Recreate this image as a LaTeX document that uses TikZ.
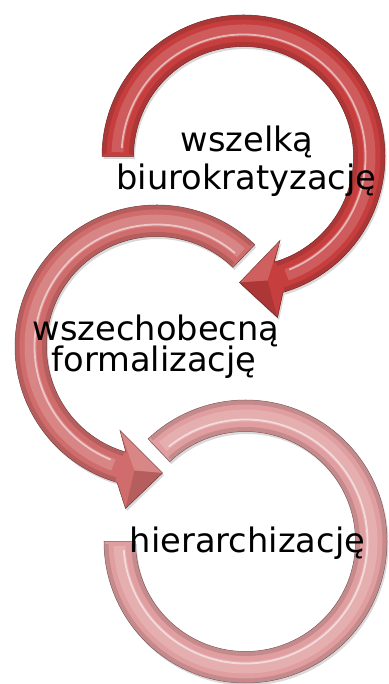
\documentclass[tikz,border=0pt]{standalone}
\usepackage{fontspec}
\setmainfont{DejaVu Sans}
\definecolor{ringA}{RGB}{198,62,62}
\definecolor{ringB}{RGB}{208,108,108}
\definecolor{ringC}{RGB}{224,158,160}
\tikzstyle{ring} = [line width=0.5pt,
    preaction={fill=black, fill opacity=0.15, transform canvas={shift={(1.5,-2.5)}}}]
\tikzstyle{edge} = [line width=4pt, black, opacity=0.12]
\tikzstyle{gloss} = [line width=12pt, opacity=0.35]
\tikzstyle{shine} = [line width=1.8pt, white, opacity=0.55]
\tikzstyle{facetlight} = [fill=white, fill opacity=0.18]
\tikzstyle{facetdark} = [fill=black, fill opacity=0.12]
\tikzstyle{ringtext} = [font=\fontsize{33.7}{38}\selectfont, text=black,
    inner sep=0pt, anchor=base]

\begin{document}
\begin{tikzpicture}[x=1pt,y=1pt]
	\useasboundingbox (0,0) rectangle (388,684);

	% first arrow, clockwise
	\begin{scope}[shift={(243.5,527.5)}]
	\filldraw[ring, fill=ringA, draw=ringA!55!black] (180:141.5)
		arc[start angle=180, end angle=-73.8, radius=141.5]
		-- (34,-161) -- (-4,-126) -- (36.5,-84) -- (-73.8:110)
		arc[start angle=-73.8, end angle=180, radius=110] -- cycle;
	\draw[edge] (179:139) arc[start angle=179, end angle=-73, radius=139];
	\draw[edge] (179:112.5) arc[start angle=179, end angle=-73, radius=112.5];
	\draw[gloss, ringA!55!white] (178:126) arc[start angle=178, end angle=-70, radius=126];
	\draw[shine] (176:122) arc[start angle=176, end angle=-68, radius=122];
	\fill[facetlight] (-4,-126) -- (36.5,-84) -- (24,-124) -- cycle;
	\fill[facetdark] (-4,-126) -- (34,-161) -- (24,-124) -- cycle;
	\end{scope}

	% second arrow, counter-clockwise
	\begin{scope}[shift={(156.5,337.5)}]
	\filldraw[ring, fill=ringB, draw=ringB!55!black] (46:141.5)
		arc[start angle=46, end angle=253.8, radius=141.5]
		-- (-31,-162) -- (6,-126.5) -- (-36.5,-84) -- (253.8:110)
		arc[start angle=253.8, end angle=46, radius=110] -- cycle;
	\draw[edge] (47:139) arc[start angle=47, end angle=253, radius=139];
	\draw[edge] (47:112.5) arc[start angle=47, end angle=253, radius=112.5];
	\draw[gloss, ringB!50!white] (48:126) arc[start angle=48, end angle=250, radius=126];
	\draw[shine] (50:122) arc[start angle=50, end angle=248, radius=122];
	\fill[facetlight] (6,-126.5) -- (-36.5,-84) -- (-22,-124) -- cycle;
	\fill[facetdark] (6,-126.5) -- (-31,-162) -- (-22,-124) -- cycle;
	\end{scope}

	% third ring, no head
	\begin{scope}[shift={(245.5,142.5)}]
	\filldraw[ring, fill=ringC, draw=ringC!55!black] (180:141.5)
		arc[start angle=180, end angle=493.5, radius=141.5]
		-- (493.5:110)
		arc[start angle=493.5, end angle=180, radius=110] -- cycle;
	\draw[edge] (181:139) arc[start angle=181, end angle=492.5, radius=139];
	\draw[edge] (181:112.5) arc[start angle=181, end angle=492.5, radius=112.5];
	\draw[gloss, ringC!50!white] (182:126) arc[start angle=182, end angle=491, radius=126];
	\draw[shine] (184:122) arc[start angle=184, end angle=489, radius=122];
	\end{scope}

	% Place texts
	\node[ringtext] (kratA) at (247,532) {wszelką};
	\node[ringtext] (kratB) at (246.5,494) {biurokratyzację};
	\node[ringtext] (formA) at (156,343) {wszechobecną};
	\node[ringtext] (formB) at (154,312) {formalizację};
	\node[ringtext] (hier) at (247.5,131) {hierarchizację};

\end{tikzpicture}
\end{document}
